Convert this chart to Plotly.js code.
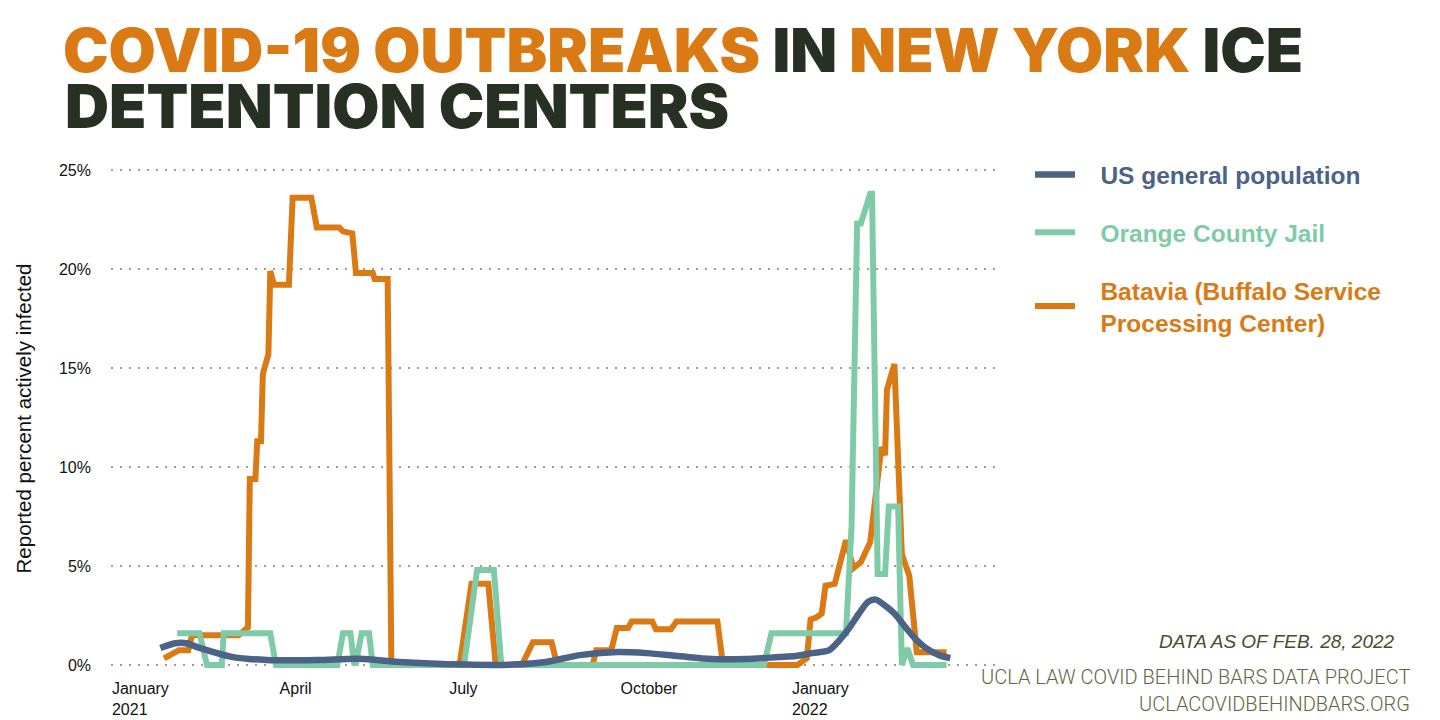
<!DOCTYPE html>
<html>
<head>
<meta charset="utf-8">
<script src="https://cdn.plot.ly/plotly-3.0.1.min.js"></script>
<style>html,body{margin:0;padding:0;background:#fff;}#chart{width:1440px;height:720px;}</style>
</head>
<body>
<div id="chart"></div>
<script>
// ---- data ----
const usDates = ['2021-01-27','2021-02-04','2021-02-10','2021-02-17','2021-03-07','2021-03-25','2021-04-21','2021-05-14','2021-06-04','2021-07-10','2021-08-04','2021-08-22','2021-09-09','2021-09-27','2021-10-15','2021-11-01','2021-11-19','2021-12-07','2021-12-25','2022-01-03','2022-01-12','2022-01-21','2022-01-26','2022-02-01','2022-02-06','2022-02-11','2022-02-15','2022-02-20','2022-02-25','2022-03-03','2022-03-08','2022-03-14','2022-03-21','2022-03-27'];
const usValues = [0.86,1.1,1.1,0.86,0.4,0.25,0.25,0.32,0.15,0.02,0.02,0.15,0.5,0.65,0.6,0.45,0.3,0.3,0.4,0.45,0.6,0.75,1.2,1.9,2.6,3.2,3.3,3.0,2.6,1.9,1.35,0.85,0.5,0.35];

const ocjDates = ['2021-02-05','2021-02-17','2021-02-21','2021-03-01','2021-03-02','2021-03-27','2021-03-30','2021-05-02','2021-05-05','2021-05-09','2021-05-11','2021-05-12','2021-05-15','2021-05-19','2021-05-21','2021-07-09','2021-07-16','2021-07-25','2021-07-29','2021-12-17','2021-12-21','2022-01-30','2022-02-02','2022-02-05','2022-02-07','2022-02-12','2022-02-13','2022-02-16','2022-02-20','2022-02-22','2022-02-27','2022-03-01','2022-03-04','2022-03-07','2022-03-25'];
const ocjValues = [1.6,1.6,0,0,1.6,1.6,0,0,1.6,1.6,0.1,0.1,1.6,1.6,0,0,4.8,4.8,0,0,1.6,1.6,7,22.3,22.3,23.8,23.8,4.6,4.6,8.0,8.0,0,0.85,0,0];

const bataviaDates = ['2021-01-29','2021-02-04','2021-02-06','2021-02-11','2021-02-13','2021-03-10','2021-03-15','2021-03-16','2021-03-19','2021-03-20','2021-03-22','2021-03-23','2021-03-25','2021-03-26','2021-03-27','2021-03-29','2021-04-06','2021-04-08','2021-04-18','2021-04-21','2021-05-03','2021-05-05','2021-05-10','2021-05-12','2021-05-21','2021-05-22','2021-05-29','2021-05-31','2021-07-06','2021-07-07','2021-07-13','2021-07-22','2021-07-26','2021-08-09','2021-08-15','2021-08-25','2021-08-28','2021-09-16','2021-09-18','2021-09-26','2021-09-29','2021-10-05','2021-10-07','2021-10-18','2021-10-20','2021-10-28','2021-10-31','2021-11-22','2021-11-25','2022-01-04','2022-01-09','2022-01-11','2022-01-14','2022-01-17','2022-01-19','2022-01-24','2022-01-30','2022-02-03','2022-02-07','2022-02-12','2022-02-18','2022-02-20','2022-02-21','2022-02-25','2022-03-01','2022-03-05','2022-03-09','2022-03-25'];
const bataviaValues = [0.34,0.6,0.75,0.75,1.5,1.5,1.9,9.4,9.4,11.3,11.3,14.7,15.4,15.7,19.9,19.2,19.2,23.6,23.6,22.1,22.1,21.9,21.8,19.8,19.8,19.5,19.5,0,0,0.25,4.1,4.1,0,0,1.15,1.15,0,0,0.75,0.75,1.87,1.87,2.2,2.2,1.8,1.8,2.2,2.2,0,0,0.35,2.3,2.4,2.6,4.0,4.1,6.3,4.9,5.2,6.2,11.0,10.6,13.9,15.2,5.6,4.5,0.65,0.65];

const seriesNames = ['US general population','Orange County Jail',['Batavia (Buffalo Service','Processing Center)']];
const xTickVals = ['2021-01-01','2021-04-01','2021-07-01','2021-10-01','2022-01-01'];
const xTickText = ['January<br>2021','April','July','October','January<br>2022'];
const yTickVals = [0,5,10,15,20,25];
const yTickText = ['0%','5%','10%','15%','20%','25%'];

// ---- styles ----
const ORANGE = '#DA7A14', GREEN = '#80CBA7', BLUE = '#4A6387', DARK = '#263023';
const SANS = '"Liberation Sans", Arial, sans-serif';
const TITLEFONT = 'Inter, "DejaVu Sans", sans-serif';
const PAD = '\u00A0\u00A0\u00A0';
function legendName(lines, color) {
  return (Array.isArray(lines) ? lines : [lines])
    .map(l => '<span style="color:' + color + '">' + PAD + l + '</span>').join('<br>');
}

const traces = [
  {x: bataviaDates, y: bataviaValues, type: 'scatter', mode: 'lines',
   name: legendName(seriesNames[2], ORANGE),
   line: {color: ORANGE, width: 6}, legendrank: 3, legendgroup: 'c'},
  {x: ocjDates, y: ocjValues, type: 'scatter', mode: 'lines',
   name: legendName(seriesNames[1], GREEN),
   line: {color: GREEN, width: 6}, legendrank: 2, legendgroup: 'b'},
  {x: usDates, y: usValues, type: 'scatter', mode: 'lines',
   name: legendName(seriesNames[0], BLUE),
   line: {color: BLUE, width: 6.5, shape: 'spline', smoothing: 0.8}, legendrank: 1, legendgroup: 'a'}
];

const layout = {
  width: 1440, height: 720,
  paper_bgcolor: '#fff', plot_bgcolor: '#fff',
  margin: {l: 111, r: 445, t: 160, b: 43},
  title: {
    text: '<span style="color:' + ORANGE + '">COVID-19 OUTBREAKS</span> <span style="color:' + DARK + '">IN</span> <span style="color:' + ORANGE + '">NEW YORK</span> <span style="color:' + DARK + '">ICE</span>',
    font: {family: TITLEFONT, size: 61, weight: 900, color: DARK},
    xref: 'container', x: 63/1440, xanchor: 'left',
    yref: 'container', y: 1 - 29/720, yanchor: 'top'
  },
  showlegend: true,
  legend: {
    xref: 'container', x: 1030/1440, xanchor: 'left',
    yref: 'container', y: 1 - 152/720, yanchor: 'top',
    font: {family: SANS, size: 24.5, weight: 'bold', color: BLUE},
    itemwidth: 40, tracegroupgap: 23, traceorder: 'grouped',
    bgcolor: 'rgba(0,0,0,0)'
  },
  xaxis: {
    type: 'date',
    range: ['2020-12-31 12:00', '2022-04-20'],
    tickvals: xTickVals, ticktext: xTickText,
    ticklabelposition: 'outside right',
    tickfont: {family: SANS, size: 16, color: '#111'},
    showgrid: false, zeroline: false, showline: false, ticks: '',
    automargin: false
  },
  yaxis: {
    range: [-0.606, 25.505],
    tickvals: yTickVals, ticktext: yTickText,
    tickfont: {family: SANS, size: 16, color: '#111'},
    ticklabelstandoff: 19,
    showgrid: true, gridcolor: '#9c9c9c', gridwidth: 1.5, griddash: '2px,7px',
    zeroline: false, showline: false, ticks: '',
    automargin: false,
    title: {text: 'Reported percent actively infected', font: {family: SANS, size: 20.5, color: '#111'}, standoff: 21}
  },
  annotations: [
    {text: 'DETENTION CENTERS', xref: 'paper', yref: 'paper', x: (63-111)/884, y: (677-67)/517,
     xanchor: 'left', yanchor: 'top', showarrow: false,
     font: {family: TITLEFONT, size: 61, weight: 900, color: DARK}},
    {text: 'DATA AS OF FEB. 28, 2022', xref: 'paper', yref: 'paper', x: (1397-111)/884, y: (677-641)/517,
     xanchor: 'right', yanchor: 'middle', showarrow: false,
     font: {family: SANS, size: 19, style: 'italic', color: '#4B4B2E'}},
    {text: 'UCLA LAW COVID BEHIND BARS DATA PROJECT', xref: 'paper', yref: 'paper', x: (1412-111)/884, y: (677-677)/517,
     xanchor: 'right', yanchor: 'middle', showarrow: false,
     font: {family: 'Roboto, sans-serif', size: 20, weight: 300, color: '#5E6640'}},
    {text: 'UCLACOVIDBEHINDBARS.ORG', xref: 'paper', yref: 'paper', x: (1412-111)/884, y: (677-704)/517,
     xanchor: 'right', yanchor: 'middle', showarrow: false,
     font: {family: 'Roboto, sans-serif', size: 20, weight: 300, color: '#5E6640'}}
  ],
  hovermode: false
};

Plotly.newPlot('chart', traces, layout, {displayModeBar: false, staticPlot: true});
</script>
</body>
</html>
